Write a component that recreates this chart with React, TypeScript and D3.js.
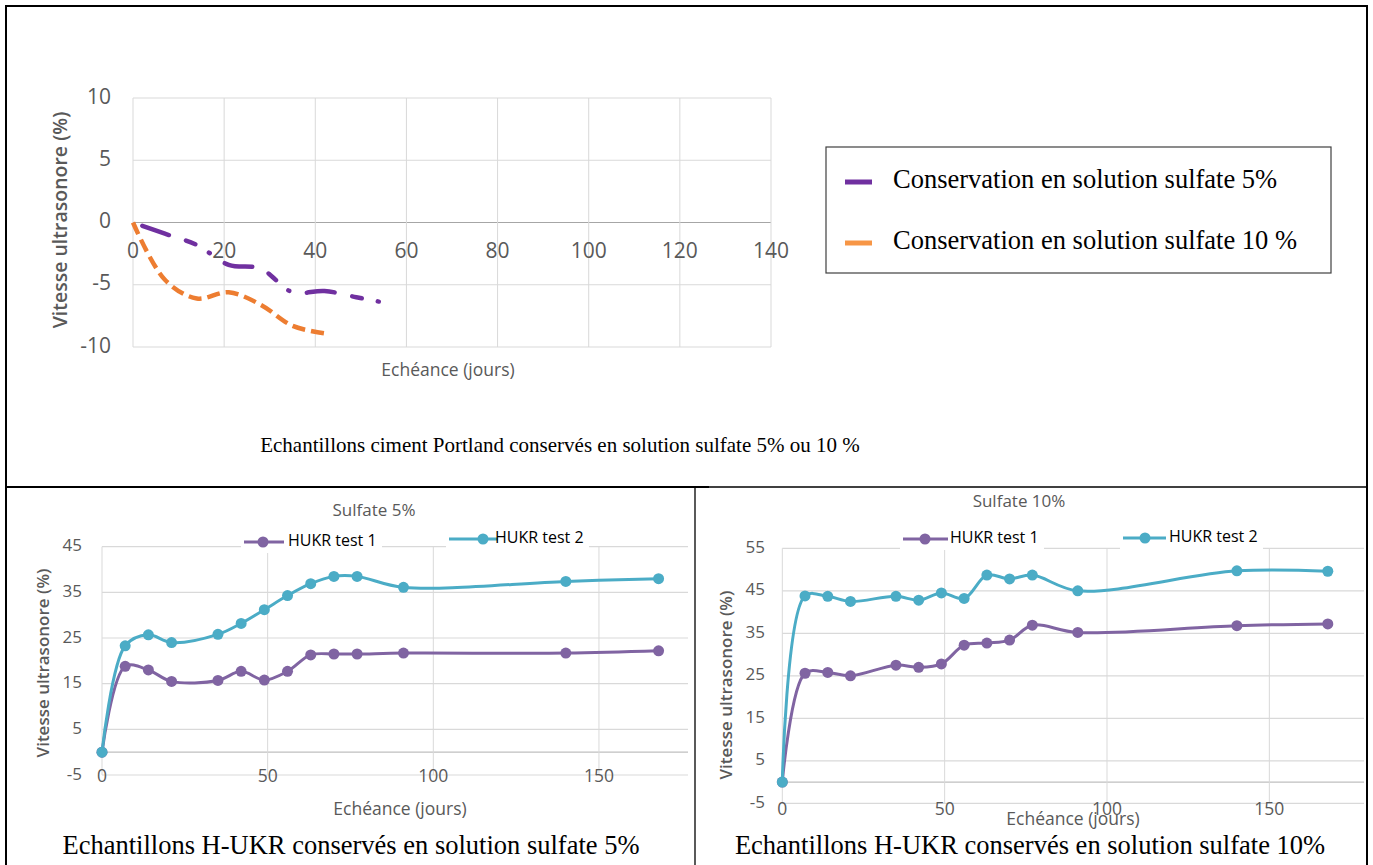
import React from 'react';
import * as d3 from 'd3';

// ---------- DATA ----------
const topXTicks = [0, 20, 40, 60, 80, 100, 120, 140];
const topYTicks = [-10, -5, 0, 5, 10];
const topDays5 = [0, 7, 14, 21, 28, 35, 42, 49, 56];
const topSulfate5 = [0, -0.9, -1.8, -3.4, -3.7, -5.6, -5.5, -6.0, -6.5];
const topDays10 = [0, 7, 14, 21, 28, 35, 42];
const topSulfate10 = [0, -4.6, -6.1, -5.6, -6.6, -8.3, -8.9];
const topLegend = ['Conservation en solution sulfate 5%', 'Conservation en solution sulfate 10 %'];

const bottomDays = [0, 7, 14, 21, 35, 42, 49, 56, 63, 70, 77, 91, 140, 168];
const s5Test1 = [0, 18.8, 18.0, 15.5, 15.7, 17.7, 15.8, 17.7, 21.3, 21.5, 21.5, 21.7, 21.7, 22.2];
const s5Test2 = [0, 23.3, 25.7, 24.0, 25.8, 28.2, 31.2, 34.3, 36.9, 38.5, 38.5, 36.1, 37.4, 38.0];
const s10Test1 = [0, 25.6, 25.8, 25.0, 27.5, 27.0, 27.8, 32.2, 32.7, 33.4, 36.9, 35.2, 36.8, 37.2];
const s10Test2 = [0, 43.8, 43.7, 42.5, 43.7, 42.8, 44.5, 43.2, 48.7, 47.8, 48.7, 45.0, 49.7, 49.6];
const bottomXTicks = [0, 50, 100, 150];
const s5YTicks = [-5, 5, 15, 25, 35, 45];
const s10YTicks = [-5, 5, 15, 25, 35, 45, 55];
const seriesNames = ['HUKR test 1', 'HUKR test 2'];

const captions = [
  'Echantillons ciment Portland conservés en solution sulfate 5% ou 10 %',
  'Echantillons H-UKR conservés en solution sulfate 5%',
  'Echantillons H-UKR conservés en solution sulfate 10%',
];

// ---------- STYLE ----------
const W = 1373, H = 865;
const GRID = '#d9d9d9';
const AXIS = '#bfbfbf';
const TXT = '#595959';
const PURPLE_TOP = '#7030a0';
const ORANGE_TOP = '#ed7d31';
const ORANGE_LEG = '#f79646';
const PURPLE = '#8064a2';
const CYAN = '#4bacc6';
const SANS = "'Open Sans', sans-serif";
const SERIF = "'Liberation Serif', 'Times New Roman', serif";

function TopChart() {
  const x = d3.scaleLinear().domain([0, 140]).range([133, 771]);
  const y = d3.scaleLinear().domain([-10, 10]).range([347, 98]);
  const line = d3.line<[number, number]>()
    .x(d => x(d[0])).y(d => y(d[1]))
    .curve(d3.curveCatmullRom.alpha(0.5));
  const p5 = topDays5.map((d, i) => [d, topSulfate5[i]] as [number, number]);
  const p10 = topDays10.map((d, i) => [d, topSulfate10[i]] as [number, number]);
  return (
    <g fontFamily={SANS}>
      {topYTicks.map(v => (
        <line key={'h' + v} x1={x(0)} x2={x(140)} y1={y(v)} y2={y(v)}
          stroke={v === 0 ? '#a6a6a6' : GRID} strokeWidth={1} />
      ))}
      {topXTicks.map(v => (
        <line key={'v' + v} x1={x(v)} x2={x(v)} y1={y(10)} y2={y(-10)} stroke={GRID} strokeWidth={1} />
      ))}
      {topYTicks.map(v => (
        <text key={'yl' + v} x={111} y={y(v)} textAnchor="end" dominantBaseline="middle"
          fontSize={21} fill={TXT}>{v}</text>
      ))}
      {topXTicks.map(v => (
        <text key={'xl' + v} x={x(v)} y={y(0) + 30} textAnchor="middle" dominantBaseline="middle"
          fontSize={21} fill={TXT}>{v}</text>
      ))}
      <path d={line(p10) || ''} fill="none" stroke={ORANGE_TOP} strokeWidth={4.5}
        strokeDasharray="13 6" />
      <path d={line(p5) || ''} fill="none" stroke={PURPLE_TOP} strokeWidth={4.5}
        strokeLinecap="round" strokeDasharray="28 18 10 16 1 18" strokeDashoffset={-10} />
      <text x={62} y={220} transform="rotate(-90 62 220)" textAnchor="middle" dominantBaseline="middle"
        fontSize={19.5} fontWeight={600} fill={TXT}>Vitesse ultrasonore (%)</text>
      <text x={448} y={371} textAnchor="middle" dominantBaseline="middle" fontSize={17.5} fill={TXT}>
        Echéance (jours)
      </text>
      {/* legend */}
      <rect x={826} y={147} width={505} height={126} fill="#fff" stroke="#404040" strokeWidth={1.2} />
      {topLegend.map((t, i) => (
        <g key={t}>
          <line x1={845} x2={872} y1={182 + i * 61} y2={182 + i * 61}
            stroke={i === 0 ? PURPLE_TOP : ORANGE_LEG} strokeWidth={5} />
          <text x={893} y={182 + i * 61} dominantBaseline="middle" fontFamily={SERIF} fontSize={26.5}
            fill="#000">{t}</text>
        </g>
      ))}
      <text x={560} y={447} textAnchor="middle" dominantBaseline="middle" fontFamily={SERIF}
        fontSize={21} fill="#000">{captions[0]}</text>
    </g>
  );
}

type BottomProps = {
  id: string;
  xStart: number; pxPerDay: number; clipRight: number;
  yDomain: [number, number]; yRange: [number, number];
  yTicks: number[];
  test1: number[]; test2: number[];
  title: string; titleX: number; titleY: number;
  leg: { l0: number; l1: number; m: number; t: number; y: number }[];
  yLabelRight: number; xLabelY: number;
  yTitleX: number; yTitleY: number;
  xTitleX: number; xTitleY: number;
  caption: string; captionX: number;
};

function BottomChart(p: BottomProps) {
  const x = d3.scaleLinear().domain([0, 180]).range([p.xStart, p.xStart + 180 * p.pxPerDay]);
  const y = d3.scaleLinear().domain(p.yDomain).range(p.yRange);
  const line = d3.line<[number, number]>()
    .x(d => x(d[0])).y(d => y(d[1]))
    .curve(d3.curveCatmullRom.alpha(0.5));
  const series = [
    { vals: p.test1, color: PURPLE },
    { vals: p.test2, color: CYAN },
  ];
  const top = y(p.yDomain[1]);
  const bottom = y(p.yDomain[0]);
  return (
    <g fontFamily={SANS}>
      <defs>
        <clipPath id={p.id}>
          <rect x={p.xStart - 10} y={top - 10} width={p.clipRight - p.xStart + 10} height={bottom - top + 20} />
        </clipPath>
      </defs>
      <g clipPath={`url(#${p.id})`}>
        {p.yTicks.map(v => (
          <line key={'h' + v} x1={x(0)} x2={x(180)} y1={y(v)} y2={y(v)} stroke={GRID} strokeWidth={1.2} />
        ))}
        <line x1={x(0)} x2={x(180)} y1={y(0)} y2={y(0)} stroke={AXIS} strokeWidth={1.2} />
        {bottomXTicks.map(v => (
          <line key={'v' + v} x1={x(v)} x2={x(v)} y1={top} y2={bottom} stroke={GRID} strokeWidth={1} />
        ))}
        {series.map((s, i) => {
          const pts = bottomDays.map((d, j) => [d, s.vals[j]] as [number, number]);
          return (
            <g key={i}>
              <path d={line(pts) || ''} fill="none" stroke={s.color} strokeWidth={3} />
              {pts.map((pt, j) => (
                <circle key={j} cx={x(pt[0])} cy={y(pt[1])} r={5.5} fill={s.color} />
              ))}
            </g>
          );
        })}
      </g>
      {p.yTicks.map(v => (
        <text key={'yl' + v} x={p.yLabelRight} y={y(v)} textAnchor="end" dominantBaseline="middle"
          fontSize={17} fill={TXT}>{v}</text>
      ))}
      {bottomXTicks.map(v => (
        <text key={'xl' + v} x={x(v)} y={p.xLabelY} textAnchor="middle" dominantBaseline="middle"
          fontSize={17.5} fill={TXT}>{v}</text>
      ))}
      <text x={p.titleX} y={p.titleY} textAnchor="middle" dominantBaseline="middle" fontSize={17} fill={TXT}>
        {p.title}
      </text>
      {p.leg.map((l, i) => (
        <g key={i}>
          <rect x={l.l0 - 3} y={l.y - 11} width={l.t - l.l0 + 97} height={22} fill="#fff" />
          <line x1={l.l0} x2={l.l1} y1={l.y} y2={l.y} stroke={series[i].color} strokeWidth={3} />
          <circle cx={l.m} cy={l.y} r={5.5} fill={series[i].color} />
          <text x={l.t} y={l.y} dominantBaseline="middle" fontSize={16} fill="#000">{seriesNames[i]}</text>
        </g>
      ))}
      <text x={p.yTitleX} y={p.yTitleY} transform={`rotate(-90 ${p.yTitleX} ${p.yTitleY})`}
        textAnchor="middle" dominantBaseline="middle" fontSize={17} fontWeight={600} fill={TXT}>
        Vitesse ultrasonore (%)
      </text>
      <text x={p.xTitleX} y={p.xTitleY} textAnchor="middle" dominantBaseline="middle" fontSize={17.5} fill={TXT}>
        Echéance (jours)
      </text>
      <text x={p.captionX} y={848} textAnchor="middle" dominantBaseline="middle" fontFamily={SERIF}
        fontSize={26.5} fill="#000">{p.caption}</text>
    </g>
  );
}

export default function App() {
  return (
    <svg width={W} height={H} style={{ position: 'absolute', left: 0, top: 0, background: '#fff' }}>
      <rect x={0} y={0} width={W} height={H} fill="#fff" />
      <TopChart />
      <BottomChart
        id="clipL" xStart={102} pxPerDay={3.313} clipRight={688}
        yDomain={[-5, 45]} yRange={[775, 546.7]} yTicks={s5YTicks}
        test1={s5Test1} test2={s5Test2}
        title="Sulfate 5%" titleX={374} titleY={511}
        leg={[{ l0: 244, l1: 284, m: 263, t: 288, y: 542 }, { l0: 449, l1: 498, m: 483, t: 495, y: 539 }]}
        yLabelRight={82} xLabelY={777}
        yTitleX={44} yTitleY={663} xTitleX={400} xTitleY={810}
        caption={captions[1]} captionX={351}
      />
      <BottomChart
        id="clipR" xStart={782.3} pxPerDay={3.247} clipRight={1364}
        yDomain={[-5, 55]} yRange={[803.3, 548.3]} yTicks={s10YTicks}
        test1={s10Test1} test2={s10Test2}
        title="Sulfate 10%" titleX={1019} titleY={502}
        leg={[{ l0: 903, l1: 948, m: 925, t: 950, y: 539 }, { l0: 1123, l1: 1166, m: 1145, t: 1169, y: 538 }]}
        yLabelRight={765} xLabelY={810}
        yTitleX={727} yTitleY={685} xTitleX={1073} xTitleY={820}
        caption={captions[2]} captionX={1030}
      />
      {/* frame */}
      <g stroke="#000" fill="none">
        <line x1={5} x2={1368} y1={6} y2={6} strokeWidth={2} />
        <line x1={6} x2={6} y1={5} y2={865} strokeWidth={2} />
        <line x1={1367} x2={1367} y1={5} y2={865} strokeWidth={2} />
        <line x1={6} x2={709} y1={487} y2={487} strokeWidth={2} />
        <line x1={709} x2={1367} y1={487} y2={487} strokeWidth={1.3} />
        <line x1={695} x2={695} y1={487} y2={865} strokeWidth={1.3} />
      </g>
    </svg>
  );
}
